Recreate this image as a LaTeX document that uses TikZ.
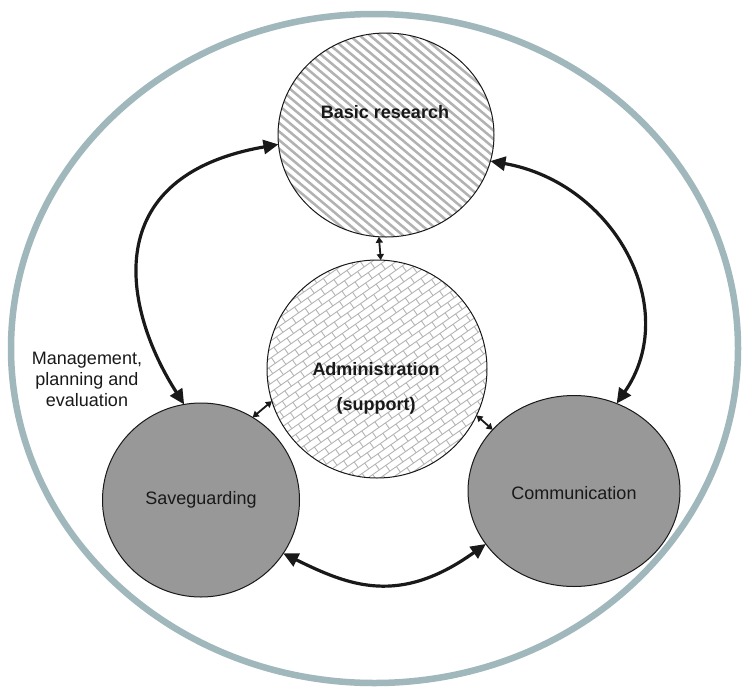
\documentclass[tikz,border=0pt]{standalone}
\usepackage{fontspec}
\setmainfont{Liberation Sans}
\usetikzlibrary{arrows.meta,shapes.geometric}
\definecolor{ring}{RGB}{160,184,188}
\definecolor{disk}{RGB}{152,152,152}
\definecolor{hatch}{RGB}{178,178,178}
\definecolor{brick}{RGB}{180,180,180}
\definecolor{ink}{RGB}{25,25,25}
\begin{document}
\begin{tikzpicture}[x=1pt,y=-1pt,
  circ/.style={ellipse, draw=ink, line width=1pt, inner sep=0pt, outer sep=0pt},
  bigarrow/.style={line width=3.2pt, draw=ink, {Triangle[length=15pt,width=14pt]}-{Triangle[length=15pt,width=14pt]}},
  smallarrow/.style={line width=1.8pt, draw=ink, {Triangle[length=6pt,width=7pt]}-{Triangle[length=6pt,width=7pt]}},
  lab/.style={font=\fontsize{18}{21}\selectfont, text=ink, align=center, inner sep=0pt},
  labb/.style={font=\fontsize{18}{21}\selectfont\bfseries, text=ink, align=center, inner sep=0pt}
]
\useasboundingbox (0,0) rectangle (747,689);
\fill[white] (0,0) rectangle (747,689);

% striped fill of "Basic research"
\begin{scope}
  \clip (386,135) ellipse [x radius=108, y radius=102];
  \begin{scope}[shift={(386,135)}, rotate=-40]
    \foreach \k in {-22,...,22} \draw[hatch, line width=2.5pt] (-170,{\k*6.6}) -- (170,{\k*6.6});
  \end{scope}
\end{scope}

% brick fill of "Administration"
\begin{scope}
  \clip (377,369) ellipse [x radius=110, y radius=109];
  \begin{scope}[shift={(377,369)}, rotate=35, brick, line width=0.9pt]
    \foreach \j in {-18,...,18} \draw (-170,{\j*7}) -- (170,{\j*7});
    \foreach \j in {-18,...,17} {
      \pgfmathsetmacro\off{mod(abs(\j),2)*8}
      \draw \foreach \i in {-12,...,12} {({\i*16+\off},{\j*7}) -- ++(0,7)};
    }
  \end{scope}
\end{scope}

\node[ellipse, draw=ring, line width=6.5pt, minimum width=727pt, minimum height=669pt, inner sep=0pt] (outer) at (374.5,348.5) {};

\node[circ, minimum width=216pt, minimum height=204pt] (br) at (386,135) {};
\node[circ, minimum width=220pt, minimum height=218pt] (adm) at (377,369) {};
\node[circ, fill=disk, minimum width=197pt, minimum height=194pt] (sg) at (201,500) {};
\node[circ, fill=disk, minimum width=212pt, minimum height=191pt] (cm) at (574,491) {};

\draw[bigarrow] (br.185) .. controls (97,176) and (123,309) .. (sg.100);
\draw[bigarrow] (br.-14) .. controls (615,183) and (682,309) .. (cm.64);
\draw[bigarrow] (sg.-33) .. controls (349.5,586) and (399.5,606) .. (cm.211);

\draw[smallarrow] (br.266) -- (adm.88);
\draw[smallarrow] (adm.197) -- (sg.58);
\draw[smallarrow] (adm.-25) -- (cm.143);

\node[labb] (tbr) at (385,112) {Basic research};
\node[labb] (tadm) at (376,388) {Administration\\[14pt](support)};
\node[lab] (tsg) at (201,500) {Saveguarding};
\node[lab] (tcm) at (574,493) {Communication};
\node[lab] (tmg) at (87,379) {Management,\\planning and\\evaluation};
\end{tikzpicture}
\end{document}
